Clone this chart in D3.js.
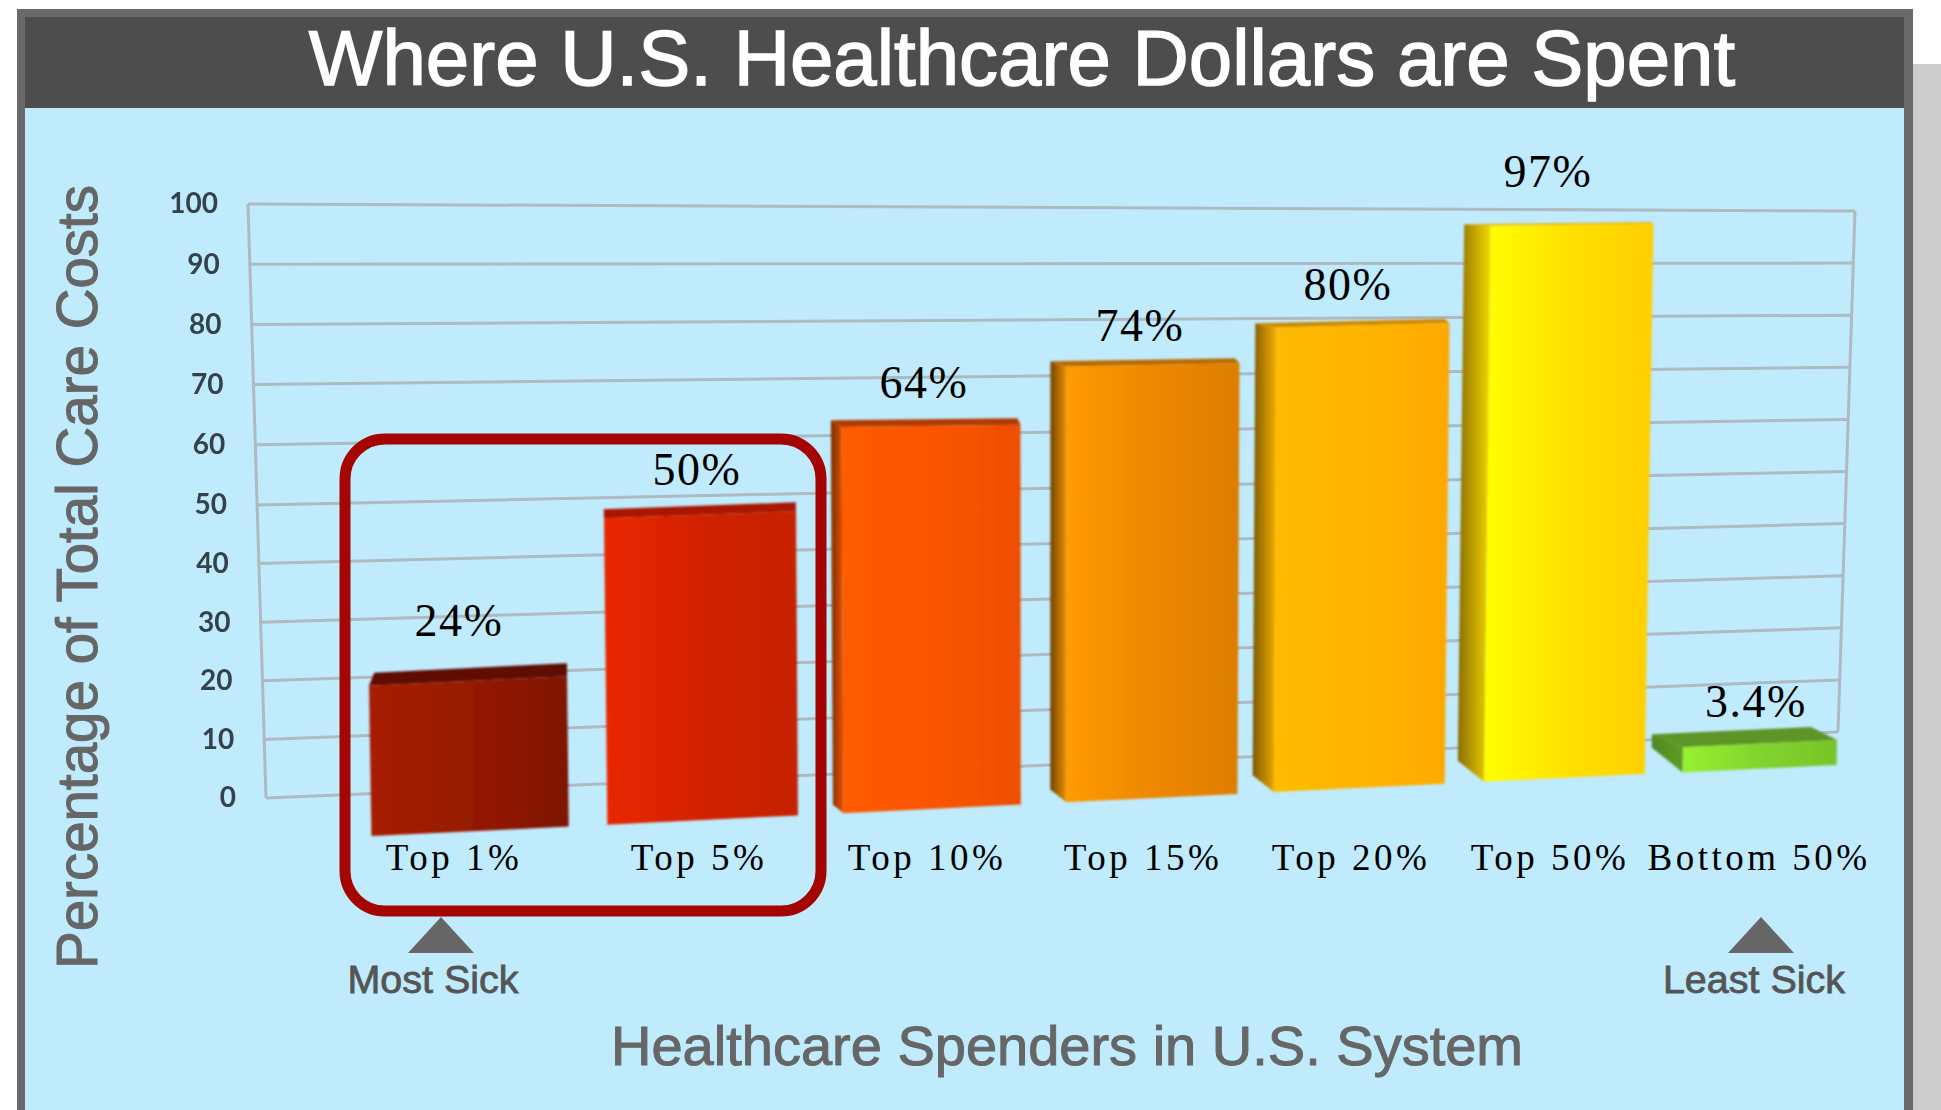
<!DOCTYPE html>
<html>
<head>
<meta charset="utf-8">
<script src="https://cdn.jsdelivr.net/npm/d3@7"></script>
<style>
  html, body { margin: 0; padding: 0; background: #fff; }
  svg { display: block; }
</style>
</head>
<body>
<div id="chart"></div>
<script>
// -- DATA --
var categories = ["Top 1%", "Top 5%", "Top 10%", "Top 15%", "Top 20%", "Top 50%", "Bottom 50%"];
var values = [24, 50, 64, 74, 80, 97, 3.4];
var valueLabels = ["24%", "50%", "64%", "74%", "80%", "97%", "3.4%"];
var yTicks = [0, 10, 20, 30, 40, 50, 60, 70, 80, 90, 100];

// -- COLOURS -- front left / mid / right, side, top
var frontColors = [
  ["#a81e00", "#961a00", "#7e1400"],
  ["#e92800", "#d22200", "#c62000"],
  ["#ff5c00", "#fb5500", "#ee4f00"],
  ["#ff9a00", "#ee8800", "#dd7d00"],
  ["#ffbb00", "#ffb400", "#ffa800"],
  ["#ffff00", "#ffe000", "#ffcf00"],
  ["#98f030", "#82d42e", "#76c42a"]
];
var sideColors = [
  ["#7a1400", "#a01a00"], ["#a81a00", "#e02600"], ["#7a3000", "#e85000"],
  ["#704400", "#f09000"], ["#7c5a00", "#f5ae00"], ["#8c6c00", "#f2d800"],
  ["#4e8a20", "#5f9c26"]
];
var topColors = ["#5e0d00", "#a81800", "#b03a00", "#b86c00", "#d08a00", "#e8b000", "#5d9526"];

// -- LAYOUT --
var width = 1941, height = 1110;
var barCentres = [468, 700, 931, 1153, 1363, 1572, 1760];
var barWidths = [198, 192, 179, 173, 173, 163, 154];
var labelCentres = [459, 697, 924, 1140, 1348, 1548, 1756];
var labelLift = [32, 20, 21, 20, 20, 36, 14];
var categoryCentres = [454, 699, 927, 1143, 1351, 1550, 1759];

var svg = d3.select("#chart").append("svg")
    .attr("width", width)
    .attr("height", height);

var defs = svg.append("defs");
defs.append("filter").attr("id", "soft")
    .append("feGaussianBlur").attr("stdDeviation", 1.1);
defs.append("filter").attr("id", "softer")
    .append("feGaussianBlur").attr("stdDeviation", 0.6);

// panel
svg.append("rect").attr("x", 1913).attr("y", 64).attr("width", 28).attr("height", height - 64).attr("fill", "#cccccc");
svg.append("rect").attr("x", 17).attr("y", 9).attr("width", 1896).attr("height", height - 9).attr("fill", "#6a6a6a");
svg.append("rect").attr("x", 25).attr("y", 17).attr("width", 1879).attr("height", 92).attr("fill", "#4d4d4d");
svg.append("rect").attr("x", 25).attr("y", 108).attr("width", 1879).attr("height", height - 108).attr("fill", "#bfebfd");

svg.append("text")
    .attr("x", 1022).attr("y", 85)
    .attr("text-anchor", "middle")
    .attr("fill", "#fff")
    .attr("stroke", "#fff").attr("stroke-width", 1.4)
    .style("font", "78px 'Liberation Sans'")
    .text("Where U.S. Healthcare Dollars are Spent");

// -- back wall, perspective so each side has its own scale --
var wallLeftY = d3.scaleLinear().domain([0, 50, 100]).range([798, 505, 204]);
var wallLeftX = d3.scaleLinear().domain([0, 100]).range([266, 248]);
var wallRightY = d3.scaleLinear().domain([0, 100]).range([732, 211]);
var wallRightX = d3.scaleLinear().domain([0, 100]).range([1838, 1855]);

var wall = svg.append("g").attr("filter", "url(#softer)")
    .attr("stroke", "#aebac1").attr("stroke-width", 3).attr("fill", "none");

wall.selectAll(".grid")
    .data(yTicks)
  .enter().append("line")
    .attr("class", "grid")
    .attr("x1", wallLeftX).attr("y1", wallLeftY)
    .attr("x2", wallRightX).attr("y2", wallRightY);

wall.append("line")
    .attr("x1", wallLeftX(0)).attr("y1", wallLeftY(0))
    .attr("x2", wallLeftX(100)).attr("y2", wallLeftY(100));
wall.append("line")
    .attr("x1", wallRightX(0)).attr("y1", wallRightY(0))
    .attr("x2", wallRightX(100)).attr("y2", wallRightY(100));

var yAxis = svg.append("g")
    .attr("class", "y-axis")
    .attr("filter", "url(#softer)")
    .call(d3.axisLeft(wallLeftY).tickValues(yTicks).tickSize(0).tickPadding(0));
yAxis.select(".domain").remove();
yAxis.selectAll(".tick")
    .attr("transform", function(d) { return "translate(" + (wallLeftX(d) - 30) + "," + (wallLeftY(d) + 0.5) + ")"; });
yAxis.selectAll("text")
    .attr("fill", "#36434b")
    .style("font", "700 28px Lato");

// -- front plane of the bars --
var frontBase = d3.scaleLinear().domain([371, 1650]).range([836, 774]);
var frontTop = d3.scaleLinear().domain(barCentres).range([224, 213, 213, 217, 210, 208, 205]);
var tilt = d3.scaleLinear().domain([248, 1855]).range([12, -12]);
var lipHeight = d3.scaleLinear().domain([0, 24, 100]).range([13, 13, 1]);
var lipShift = d3.scaleLinear().domain([370, 1680]).range([0.4, -2]);
var sideDepth = d3.scaleLinear().domain([650, 1683]).range([6, 31]).clamp(true);
var bevel = 6;

function frontY(x, v) {
  return frontBase(x) + (frontTop(x) - frontBase(x)) * v / 100 - bevel * (1 - v / 100);
}
function pts(list) {
  return list.map(function(p) { return p.join(","); }).join(" ");
}

var bars = svg.append("g").attr("class", "bars").attr("filter", "url(#soft)");

values.forEach(function(v, i) {
  var xl = barCentres[i] - barWidths[i] / 2,
      xr = barCentres[i] + barWidths[i] / 2,
      lip = lipHeight(v),
      shift = lipShift(xl) * lip,
      side = i < 2 ? 0 : sideDepth(xl),
      tl = [xl, frontY(xl, v)],
      tr = [xr, frontY(xr, v)],
      bl = [xl + tilt(xl) * v / 100, frontBase(xl)],
      br = [xr + tilt(xr) * v / 100, frontBase(xr)];

  var grad = defs.append("linearGradient").attr("id", "front" + i);
  frontColors[i].forEach(function(c, j) {
    grad.append("stop").attr("offset", j / 2).attr("stop-color", c);
  });
  var sideGrad = defs.append("linearGradient").attr("id", "side" + i);
  sideColors[i].forEach(function(c, j) {
    sideGrad.append("stop").attr("offset", j).attr("stop-color", c);
  });

  if (side > 0) {
    bars.append("polygon")
        .attr("fill", "url(#side" + i + ")")
        .attr("points", pts([
          [tl[0] - side, tl[1] - lip],
          tl,
          bl,
          [bl[0] - side, bl[1] - side * 0.8]
        ]));
  }
  bars.append("polygon")
      .attr("fill", topColors[i])
      .attr("points", pts([
        tl, tr,
        [tr[0] + Math.min(shift, 0), tr[1] - lip],
        [tl[0] + (side > 0 ? -side : shift), tl[1] - lip]
      ]));
  bars.append("polygon")
      .attr("fill", "url(#front" + i + ")")
      .attr("points", pts([tl, tr, br, bl]));
});

// -- value and category labels --
svg.selectAll(".value")
    .data(valueLabels)
  .enter().append("text")
    .attr("class", "value")
    .attr("x", function(d, i) { return labelCentres[i]; })
    .attr("y", function(d, i) {
      var c = barCentres[i];
      return frontY(c, values[i]) - lipHeight(values[i]) - labelLift[i];
    })
    .attr("text-anchor", "middle")
    .attr("fill", "#000")
    .style("font", "46px 'Liberation Serif'")
    .style("letter-spacing", "1.5px")
    .text(function(d) { return d; });

svg.selectAll(".category")
    .data(categories)
  .enter().append("text")
    .attr("class", "category")
    .attr("x", function(d, i) { return categoryCentres[i]; })
    .attr("y", 870)
    .attr("text-anchor", "middle")
    .attr("fill", "#000")
    .style("font", "37px 'Liberation Serif'")
    .style("letter-spacing", "3.5px")
    .text(function(d) { return d; });

// -- highlight box round the two biggest spenders --
svg.append("rect")
    .attr("x", 345).attr("y", 439)
    .attr("width", 476).attr("height", 472)
    .attr("rx", 40).attr("ry", 40)
    .attr("fill", "none")
    .attr("stroke", "#a50500")
    .attr("stroke-width", 11);

// -- most / least sick markers --
var markers = [
  {name: "Most Sick", tip: 441, text: 433},
  {name: "Least Sick", tip: 1761, text: 1754}
];
svg.selectAll(".marker")
    .data(markers)
  .enter().append("path")
    .attr("class", "marker")
    .attr("fill", "#666")
    .attr("d", function(d) {
      return d3.line()([[d.tip, 917], [d.tip + 33, 953], [d.tip - 33, 953]]) + "Z";
    });
svg.selectAll(".marker-label")
    .data(markers)
  .enter().append("text")
    .attr("class", "marker-label")
    .attr("x", function(d) { return d.text; })
    .attr("y", 993)
    .attr("text-anchor", "middle")
    .attr("fill", "#555")
    .attr("stroke", "#555").attr("stroke-width", 0.8)
    .style("font", "39.5px 'Liberation Sans'")
    .text(function(d) { return d.name; });

// -- axis titles --
svg.append("text")
    .attr("transform", "translate(97,577) rotate(-90)")
    .attr("text-anchor", "middle")
    .attr("fill", "#666")
    .attr("stroke", "#666").attr("stroke-width", 1)
    .style("font", "56.5px 'Liberation Sans'")
    .text("Percentage of Total Care Costs");

svg.append("text")
    .attr("x", 1067).attr("y", 1065)
    .attr("text-anchor", "middle")
    .attr("fill", "#666")
    .attr("stroke", "#666").attr("stroke-width", 1)
    .style("font", "56px 'Liberation Sans'")
    .text("Healthcare Spenders in U.S. System");
</script>
</body>
</html>
